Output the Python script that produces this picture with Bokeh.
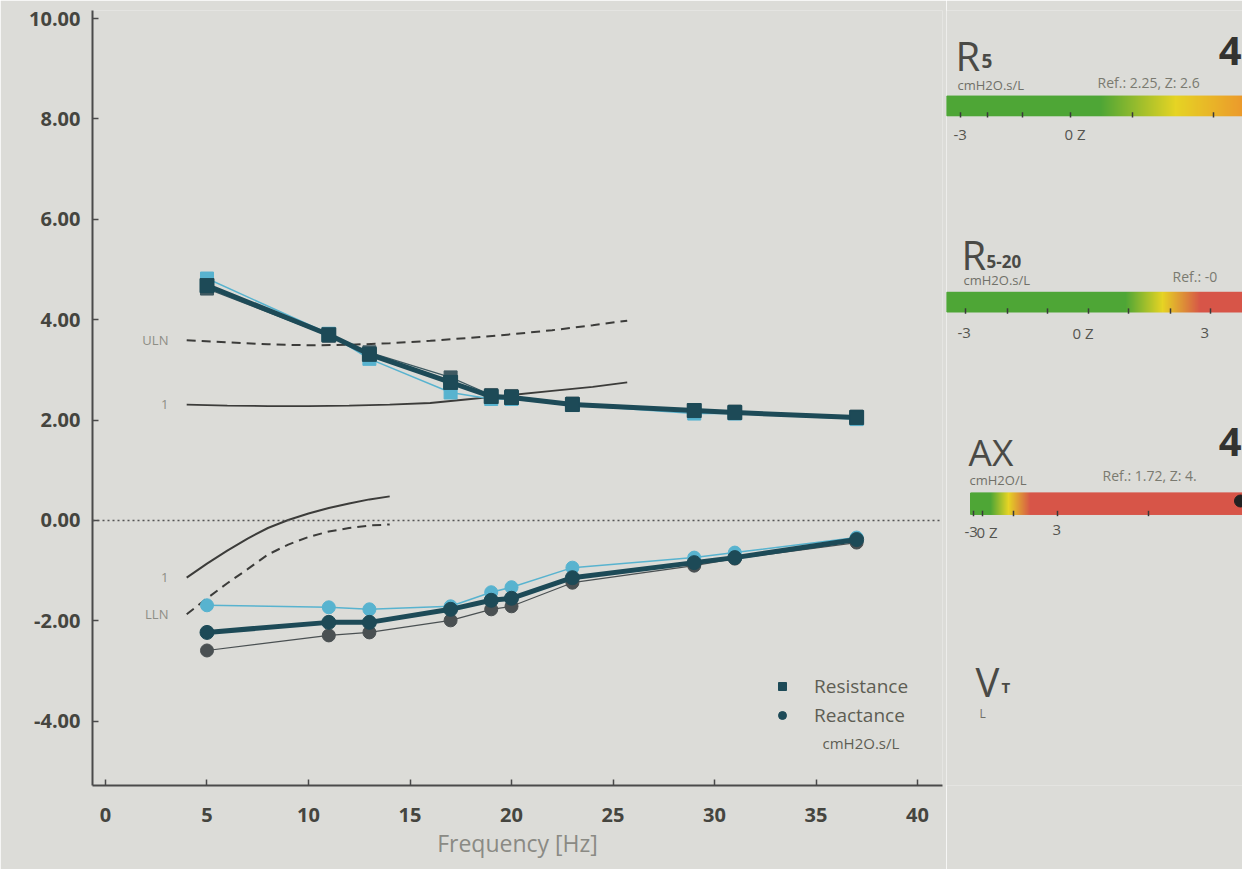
import numpy as np
from bokeh.plotting import figure
from bokeh.layouts import row
from bokeh.models import Range1d, FixedTicker, PrintfTickFormatter, Legend, LegendItem, Label, Span
from bokeh.core.properties import value
from bokeh.embed import file_html
from bokeh.resources import INLINE

# ---------------- data ----------------
freqs = [5, 11, 13, 17, 19, 20, 23, 29, 31, 37]
rs_mean = [4.68, 3.70, 3.31, 2.75, 2.47, 2.45, 2.31, 2.19, 2.15, 2.05]
rs_trial1 = [4.82, 3.72, 3.22, 2.55, 2.42, 2.42, 2.30, 2.13, 2.13, 2.02]
rs_trial2 = [4.62, 3.68, 3.35, 2.85, 2.50, 2.48, 2.33, 2.20, 2.17, 2.07]
xs_mean = [-2.23, -2.03, -2.03, -1.77, -1.59, -1.55, -1.14, -0.84, -0.74, -0.38]
xs_trial1 = [-1.69, -1.73, -1.77, -1.71, -1.43, -1.33, -0.94, -0.74, -0.64, -0.34]
xs_trial2 = [-2.59, -2.29, -2.23, -1.99, -1.77, -1.71, -1.24, -0.90, -0.76, -0.44]

r_ref_f = [4, 6, 8, 10, 12, 14, 16, 18, 20, 22, 24, 25.7]
r_uln = [3.59, 3.55, 3.51, 3.49, 3.50, 3.53, 3.58, 3.64, 3.71, 3.79, 3.89, 3.98]
r_pred = [2.31, 2.29, 2.28, 2.28, 2.29, 2.31, 2.34, 2.42, 2.50, 2.58, 2.66, 2.75]
x_ref_f = [4, 5, 6, 7, 8, 9, 10, 11, 12, 13, 14]
x_pred = [-1.14, -0.86, -0.60, -0.36, -0.15, 0.01, 0.14, 0.25, 0.34, 0.42, 0.48]
x_lln = [-1.87, -1.55, -1.25, -0.97, -0.68, -0.48, -0.33, -0.22, -0.15, -0.10, -0.08]

x_ticks = [0, 5, 10, 15, 20, 25, 30, 35, 40]
y_ticks = [-4, -2, 0, 2, 4, 6, 8, 10]

FONT = value("Open Sans")
BG = "#dcdcd8"

# ---------------- main chart ----------------
p = figure(width=946, height=869,
           x_range=Range1d(-0.64, 41.23), y_range=Range1d(-5.28, 10.16),
           output_backend="svg", toolbar_location=None,
           min_border_left=92, min_border_right=4, min_border_top=10, min_border_bottom=84,
           background_fill_color=BG, border_fill_color=BG, outline_line_color=None)
p.grid.visible = False

for ax in (p.xaxis[0], p.yaxis[0]):
    ax.axis_line_color = "#4a4a4a"
    ax.axis_line_width = 2
    ax.major_tick_in = 6
    ax.major_tick_out = 0
    ax.major_tick_line_color = "#4a4a4a"
    ax.major_tick_line_width = 1.5
    ax.minor_tick_line_color = None
    ax.major_label_text_font = "Open Sans"
    ax.major_label_text_font_size = "20px"
    ax.major_label_text_font_style = "bold"
    ax.major_label_text_color = "#45453f"

p.xaxis.ticker = FixedTicker(ticks=x_ticks)
p.yaxis.ticker = FixedTicker(ticks=y_ticks)
p.yaxis.formatter = PrintfTickFormatter(format="%.2f")
p.xaxis.major_label_standoff = 22
p.yaxis.major_label_standoff = 12
p.xaxis.axis_label = "Frequency [Hz]"
p.xaxis.axis_label_text_font = "Open Sans"
p.xaxis.axis_label_text_font_size = "23px"
p.xaxis.axis_label_text_font_style = "normal"
p.xaxis.axis_label_text_color = "#8a8a84"
p.xaxis.axis_label_standoff = 2

p.add_layout(Span(location=0, dimension="width", line_color="#555555",
                  line_width=1.5, line_dash="2 3"))

# reference curves
ref_col = "#3c3c3a"
p.line(r_ref_f, r_uln, line_color=ref_col, line_width=2, line_dash="9 6")
p.line(r_ref_f, r_pred, line_color=ref_col, line_width=1.8)
p.line(x_ref_f, x_pred, line_color=ref_col, line_width=2)
p.line(x_ref_f, x_lln, line_color=ref_col, line_width=2, line_dash="9 6")

lab_col = "#8e8e86"
for txt_, xx, yy in (("ULN", r_ref_f[0], r_uln[0]), ("1", r_ref_f[0], r_pred[0]),
                     ("1", x_ref_f[0], x_pred[0]), ("LLN", x_ref_f[0], x_lln[0])):
    p.add_layout(Label(x=xx - 0.9, y=yy, text=txt_, text_align="right", text_baseline="middle",
                       text_font="Open Sans", text_font_size="13px", text_color=lab_col))

# trials (thin) then mean (thick)
c_light = "#58b3cf"
c_grey = "#3f5a62"
c_main = "#1d4a57"
p.line(freqs, rs_trial1, line_color=c_light, line_width=1.5)
p.scatter(freqs, rs_trial1, marker="square", size=13, color=c_light)
p.line(freqs, rs_trial2, line_color=c_grey, line_width=1.2)
p.scatter(freqs, rs_trial2, marker="square", size=13, color=c_grey)
p.line(freqs, xs_trial1, line_color=c_light, line_width=1.5)
p.scatter(freqs, xs_trial1, marker="circle", size=13, color=c_light)
p.line(freqs, xs_trial2, line_color="#4a5052", line_width=1.2)
p.scatter(freqs, xs_trial2, marker="circle", size=13, color="#4a5052")
p.line(freqs, rs_mean, line_color=c_main, line_width=5)
sq = p.scatter(freqs, rs_mean, marker="square", size=14, color=c_main)
p.line(freqs, xs_mean, line_color=c_main, line_width=5)
ci = p.scatter(freqs, xs_mean, marker="circle", size=14, color=c_main)

legend = Legend(items=[LegendItem(label="Resistance", renderers=[sq]),
                       LegendItem(label="Reactance", renderers=[ci])],
                location=(680, 57), orientation="vertical",
                background_fill_alpha=0, border_line_color=None,
                padding=0, margin=0, spacing=3, glyph_width=20, glyph_height=24,
                label_height=24, label_standoff=22,
                label_text_font="Open Sans", label_text_font_size="19px",
                label_text_color="#5e5e54")
p.add_layout(legend)
p.add_layout(Label(x=730, y=43, x_units="screen", y_units="screen", text="cmH2O.s/L",
                   text_baseline="middle", text_font="Open Sans", text_font_size="15px",
                   text_color="#5e5e54"))

# ---------------- right panel ----------------
q = figure(width=296, height=869, x_range=Range1d(946, 1242), y_range=Range1d(869, 0),
           output_backend="svg", toolbar_location=None, x_axis_type=None, y_axis_type=None,
           min_border=0, background_fill_color=BG, border_fill_color=BG, outline_line_color=None)
q.grid.visible = False

def hex2rgb(h):
    h = h.lstrip("#")
    return np.array([int(h[i:i + 2], 16) for i in (0, 2, 4)], dtype=float)

def grad_bar(x0, x1, y0, y1, stops):
    xs = np.arange(x0, x1, 1.0)
    sx = [s[0] for s in stops]
    cols = np.array([hex2rgb(s[1]) for s in stops])
    rgb = np.stack([np.interp(xs, sx, cols[:, k]) for k in range(3)], axis=1)
    hexes = ["#%02x%02x%02x" % tuple(int(v) for v in c) for c in rgb]
    q.quad(left=xs, right=xs + 1.3, top=y0, bottom=y1, color=hexes)

def ticks(xs, y):
    q.segment(x0=xs, y0=[y] * len(xs), x1=xs, y1=[y + 6] * len(xs), line_color="#3a3a3a", line_width=1.5)

def txt(x, y, s, size, color="#555550", style="normal", align="left"):
    q.text(x=[x], y=[y], text=[s], text_font=FONT, text_font_size=size, text_color=color,
           text_font_style=style, text_align=align, text_baseline="middle")

GREEN, YELLOW, ORANGE, RED = "#4ea636", "#e6d424", "#ec9a2c", "#d75548"

# R5
txt(955, 50, "R", "40px", "#4a4a46")
txt(981, 57, "5", "19px", "#4a4a46", "bold")
txt(957, 83, "cmH2O.s/L", "13px", "#707068")
txt(1097, 81, "Ref.: 2.25, Z: 2.6", "14px", "#7a7a70")
txt(1241, 45, "4", "40px", "#333330", "bold", "right")
grad_bar(946, 1242, 96, 118, [(946, GREEN), (1100, GREEN), (1175, YELLOW), (1242, ORANGE)])
ticks([960, 987, 1022, 1070, 1132, 1213], 114)
txt(953, 140, "-3", "15px", "#555550")
txt(1064, 139, "0 Z", "15px", "#555550")

# R5-20
txt(961, 274, "R", "40px", "#4a4a46")
txt(986, 282, "5-20", "17px", "#4a4a46", "bold")
txt(963, 302, "cmH2O.s/L", "13px", "#707068")
txt(1172, 298, "Ref.: -0", "14px", "#7a7a70")
grad_bar(946, 1242, 316, 338, [(946, GREEN), (1125, GREEN), (1162, YELLOW), (1200, RED), (1242, RED)])
ticks([965, 1007, 1047, 1088, 1128, 1170, 1210], 334)
txt(957, 362, "-3", "15px", "#555550")
txt(1072, 362, "0 Z", "15px", "#555550")
txt(1200, 362, "3", "15px", "#555550")

# AX
txt(968, 494, "AX", "37px", "#4a4a46")
txt(969, 526, "cmH2O/L", "13px", "#707068")
txt(1102, 521, "Ref.: 1.72, Z: 4.", "14px", "#7a7a70")
txt(1241, 484, "4", "40px", "#333330", "bold", "right")
grad_bar(970, 1242, 541, 565, [(970, GREEN), (990, GREEN), (1008, YELLOW), (1030, RED), (1242, RED)])
ticks([973, 982, 1013, 1057, 1148], 561)
q.scatter([1240], [550], marker="circle", size=12, color="#222222")
txt(964, 585, "-3", "15px", "#555550")
txt(976, 585, "0 Z", "15px", "#555550")
txt(1052, 583, "3", "15px", "#555550")

# VT
txt(975, 752, "V", "40px", "#4a4a46")
txt(1001, 759, "T", "15px", "#4a4a46", "bold")
txt(979, 788, "L", "12px", "#707068")

layout = row(p, q, spacing=0)
open("out.html", "w").write(file_html(layout, INLINE))
